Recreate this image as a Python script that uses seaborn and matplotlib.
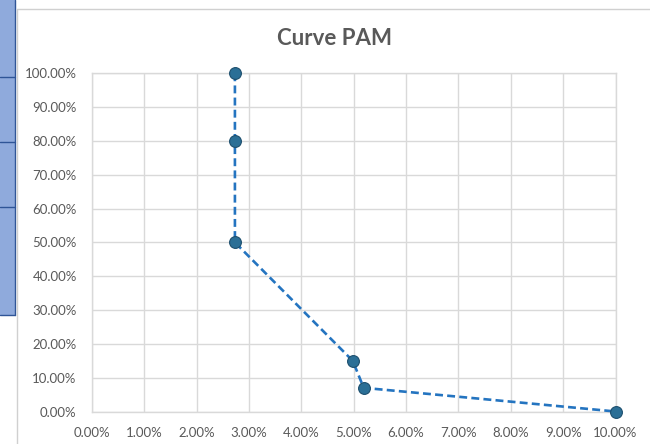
import matplotlib
matplotlib.use("Agg")
import matplotlib.pyplot as plt
import matplotlib.patches as mpatches
from matplotlib.lines import Line2D
from matplotlib.ticker import FuncFormatter, MultipleLocator
import seaborn as sns
import pandas as pd

# PAM curve points (both axes in percent)
x_pct = [2.73, 2.73, 2.73, 4.98, 5.19, 10.0]
y_pct = [100.0, 80.0, 50.0, 15.0, 7.0, 0.0]
title = "Curve PAM"

sns.set_theme(style="white")
plt.rcParams["font.family"] = ["Lato", "DejaVu Sans"]

df = pd.DataFrame({"x": x_pct, "y": y_pct})

fig = plt.figure(figsize=(6.5, 4.44), dpi=100)
ax = fig.add_axes([92 / 650, 1 - 411.5 / 444, (615.5 - 92) / 650, (411.5 - 73.3) / 444])

sns.lineplot(data=df, x="x", y="y", sort=False, estimator=None, ax=ax,
             color="#2474c0", linewidth=1.9, linestyle=(0, (3, 1.6)),
             marker="o", markersize=8.5, markerfacecolor="#2b6f96",
             markeredgecolor="#1d4f6e", markeredgewidth=0.8, zorder=3,
             clip_on=False)

ax.set_xlim(0, 10)
ax.set_ylim(0, 100)
ax.xaxis.set_major_locator(MultipleLocator(1))
ax.yaxis.set_major_locator(MultipleLocator(10))
fmt = FuncFormatter(lambda v, p: f"{v:.2f}%")
ax.xaxis.set_major_formatter(fmt)
ax.yaxis.set_major_formatter(fmt)
ax.set_xlabel("")
ax.set_ylabel("")
ax.grid(True, color="#d9d9d9", linewidth=1)
ax.set_axisbelow(True)
for s in ax.spines.values():
    s.set_color("#d9d9d9")
    s.set_linewidth(1)
ax.tick_params(axis="both", length=0, labelsize=9.5, labelcolor="#595959")
ax.tick_params(axis="x", pad=11)
ax.tick_params(axis="y", pad=11)

fig.text(335 / 650, 1 - 38.5 / 444, title, ha="center", va="center",
         fontsize=16, fontweight="bold", color="#595959")

# spreadsheet cells peeking in on the left and the chart frame
fig.patches.append(mpatches.Rectangle((0, 1 - 315 / 444), 15 / 650, 315 / 444,
                                      transform=fig.transFigure,
                                      facecolor="#8faadc", edgecolor="none"))
for yy in [77, 142, 207, 315]:
    fig.lines.append(Line2D([0, 15 / 650], [1 - yy / 444] * 2,
                            transform=fig.transFigure, color="#2f5597", lw=1))
fig.lines.append(Line2D([15 / 650] * 2, [1 - 315 / 444, 1],
                        transform=fig.transFigure, color="#2f5597", lw=1))
fig.lines.append(Line2D([16.5 / 650] * 2, [0, 1 - 9 / 444],
                        transform=fig.transFigure, color="#d0d0d0", lw=1))
fig.lines.append(Line2D([16.5 / 650, 1], [1 - 9 / 444] * 2,
                        transform=fig.transFigure, color="#d0d0d0", lw=1))

fig.savefig("out.png", dpi=100)
